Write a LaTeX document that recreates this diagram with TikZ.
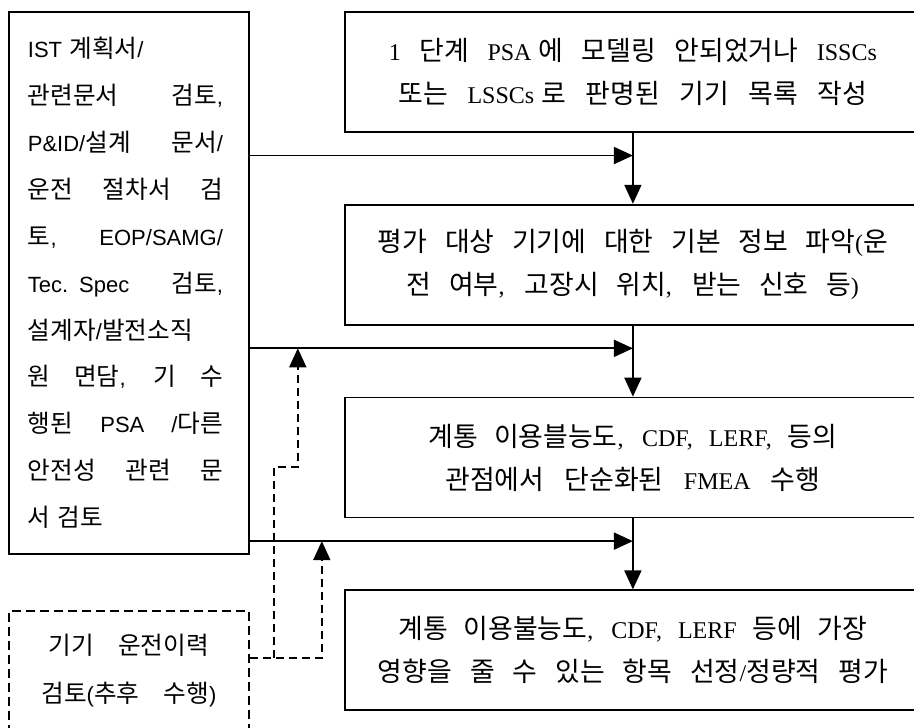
\documentclass[tikz,border=0pt]{standalone}
\usepackage{fontspec}
\setmainfont{Liberation Serif}
\setsansfont{Liberation Sans}
\newfontfamily\krfont{Noto Sans CJK KR}[Scale=1.12]
\usetikzlibrary{positioning,arrows.meta,calc}
\newcommand{\kr}[1]{{\krfont #1}}
\newcommand{\spr}[2]{\makebox[#1][s]{\spaceskip=0.3em plus 1fil\relax #2}}
\tikzset{
  stepbox/.style={rectangle, draw, line width=1.8pt, minimum width=576pt,
                  minimum height=120pt, inner sep=0pt, align=center,
                  font=\fontsize{24}{43}\selectfont},
  srcbox/.style={rectangle, draw, line width=1.8pt, minimum width=240pt,
                 minimum height=542pt, text width=202pt, inner xsep=19pt,
                 inner ysep=0pt, align=left,
                 font=\fontsize{22}{46.9}\selectfont\sffamily},
  histbox/.style={rectangle, draw, line width=1.8pt, dash pattern=on 9pt off 5pt,
                  minimum width=240pt, inner xsep=0pt, inner ysep=23pt,
                  align=center, font=\fontsize{22}{48}\selectfont\sffamily},
  flow/.style={-{Triangle[length=19pt, width=17pt]}, line width=1.8pt},
  flowd/.style={flow, dash pattern=on 8pt off 5pt},
}
\begin{document}
\begin{tikzpicture}[x=1pt, y=-1pt, node distance=71pt]
  \useasboundingbox (0,0) rectangle (914,728);

  % --- review sources ---
  \node[srcbox, anchor=north west] (src) at (8,11)
    {IST \kr{계획서}/\\
     \spr{195pt}{\kr{관련문서 검토},}\\
     \spr{195pt}{P\&ID/\kr{설계 문서}/}\\
     \spr{195pt}{\kr{운전 절차서 검}}\\
     \spr{195pt}{\kr{토}, EOP/SAMG/}\\
     \spr{195pt}{Tec. Spec \kr{검토},}\\
     \kr{설계자}/\kr{발전소직}\\
     \spr{195pt}{\kr{원 면담}, \kr{기 수}}\\
     \spr{195pt}{\kr{행된} PSA /\kr{다른}}\\
     \spr{195pt}{\kr{안전성 관련 문}}\\
     \kr{서 검토}};

  \node[histbox, anchor=north west] (hist) at (8,610)
    {\spr{160pt}{\kr{기기 운전이력}}\\
     \spr{175pt}{\kr{검토}(\kr{추후 수행})}\\
     \mbox{}};

  % --- analysis steps ---
  \node[stepbox, anchor=north west] (s1) at (344,11)
    {\spr{488pt}{1 \kr{단계} PSA\hspace{7pt}\kr{에 모델링 안되었거나} ISSCs}\\
     \spr{469pt}{\kr{또는} LSSCs\hspace{7pt}\kr{로 판명된 기기 목록 작성}}};
  \node[stepbox, below=of s1] (s2)
    {\spr{510pt}{\kr{평가 대상 기기에 대한 기본 정보 파악}(\kr{운}}\\
     \spr{452pt}{\kr{전 여부}, \kr{고장시 위치}, \kr{받는 신호 등})}};
  \node[stepbox, below=of s2] (s3)
    {\spr{409pt}{\kr{계통 이용블능도}, CDF, LERF, \kr{등의}}\\
     \spr{375pt}{\kr{관점에서 단순화된} FMEA \kr{수행}}};
  \node[stepbox, below=of s3] (s4)
    {\spr{469pt}{\kr{계통 이용불능도}, CDF, LERF \kr{등에 가장}}\\
     \spr{510pt}{\kr{영향을 줄 수 있는 항목 선정}/\kr{정량적 평가}}};

  % --- junctions on the main flow ---
  \coordinate (j1) at ($(s1.south)!0.32!(s2.north)$);
  \coordinate (j2) at ($(s2.south)!0.32!(s3.north)$);
  \coordinate (j3) at ($(s3.south)!0.32!(s4.north)$);

  \draw[flow] (s1.south) -- (s2.north);
  \draw[flow] (s2.south) -- (s3.north);
  \draw[flow] (s3.south) -- (s4.north);
  \draw[flow] (src.east |- j1) -- (j1);
  \draw[flow] (src.east |- j2) -- (j2);
  \draw[flow] (src.east |- j3) -- (j3);

  % --- later input: operating history ---
  \coordinate (h0) at ($(hist.north east)+(0,48)$);
  \coordinate (h1) at ($(h0)+(24,0)$);
  \coordinate (h2) at ($(h0)+(72,0)$);
  \coordinate (h3) at ($(h1)+(24,-191)$);
  \draw[flowd] (h0) -- (h2) -- (h2 |- j3);
  \draw[flowd] (h1) |- (h3) -- (h3 |- j2);
\end{tikzpicture}
\end{document}
